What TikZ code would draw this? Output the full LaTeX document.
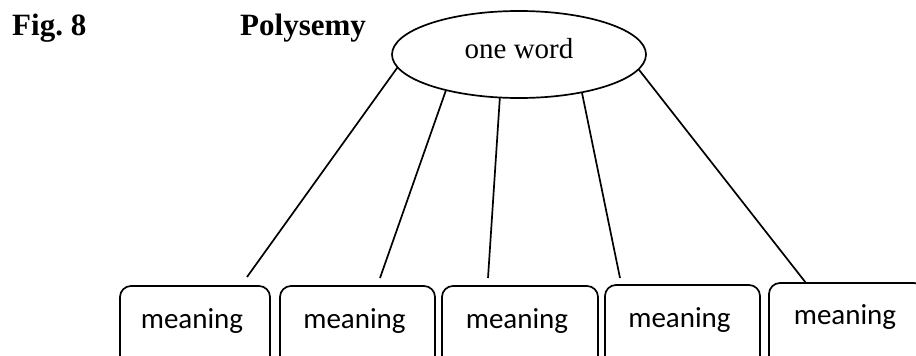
\documentclass[tikz,border=0pt]{standalone}
\usepackage{fontspec}
\setmainfont{Liberation Serif}
\newfontfamily\boxfont{Carlito}
\usetikzlibrary{shapes.geometric}
\tikzset{
  conn/.style={line width=1.7pt, black},
  wordell/.style={ellipse, draw, line width=1.7pt, inner sep=0pt, outer sep=0pt,
     minimum width=254pt, minimum height=87pt, font=\fontsize{29}{32}\selectfont,
     text height=20pt, text depth=13pt},
  meanbox/.style={draw, line width=1.7pt, rounded corners=11pt, anchor=north,
     minimum width=150pt, minimum height=90pt, inner sep=0pt, outer sep=0pt,
     font=\boxfont\fontsize{29}{32}\selectfont, text height=20pt, text depth=26pt},
  titletext/.style={anchor=base west, inner sep=0pt, font=\bfseries\fontsize{31}{34}\selectfont}
}
\begin{document}
\begin{tikzpicture}[x=1pt,y=-1pt]
\useasboundingbox (0,0) rectangle (916,356);
\node[titletext] (fig) at (12,35) {Fig.\ 8};
\node[titletext] (poly) at (240,35) {Polysemy};
\node[wordell] (w) at (519,54.5) {one word};
\node[meanbox, minimum width=150pt] (m1) at (195,286) {\hspace*{-6pt}meaning};
\node[meanbox, minimum width=155pt] (m2) at (357.5,286) {\hspace*{-6pt}meaning};
\node[meanbox, minimum width=156pt] (m3) at (520,286) {\hspace*{-6pt}meaning};
\node[meanbox, minimum width=155pt] (m4) at (682.5,285) {\hspace*{-6pt}meaning};
\node[meanbox, minimum width=156pt, text depth=28pt] (m5) at (847,283) {\hspace*{-4pt}meaning};
\coordinate (c1) at (247,277);
\coordinate (c2) at (380,278);
\coordinate (c3) at (488,278);
\coordinate (c4) at (620,278);
\draw[conn] (w.186) -- (c1);
\draw[conn] (w.206) -- (c2);
\draw[conn] (w.246) -- (c3);
\draw[conn] (w.329.6) -- (c4);
\draw[conn] (w.353.3) -- (m5.north west -| 806,0);
\end{tikzpicture}
\end{document}
